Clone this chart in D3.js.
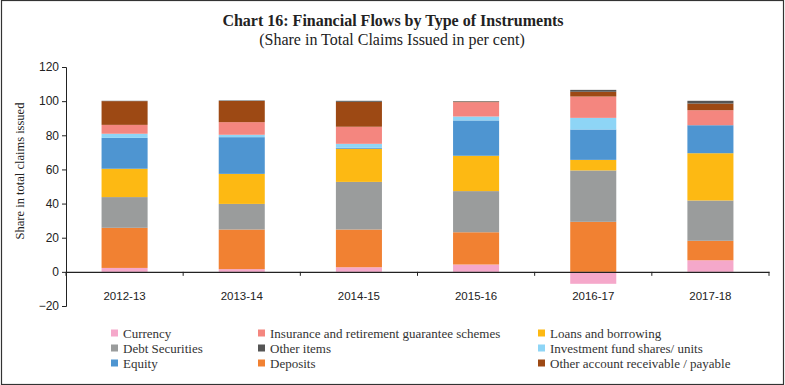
<!DOCTYPE html>
<html><head><meta charset="utf-8">
<script src="https://cdn.jsdelivr.net/npm/d3@7/dist/d3.min.js"></script>
<style>body{margin:0;background:#fff}svg{display:block}</style>
</head><body>
<script>
const categories = ["2012-13","2013-14","2014-15","2015-16","2016-17","2017-18"];
const seriesNames = ["Currency","Deposits","Debt Securities","Loans and borrowing","Equity","Investment fund shares/ units","Insurance and retirement guarantee schemes","Other account receivable / payable","Other items"];
const currency    = [2.3, 1.6, 2.7, 4.3, -7.0, 6.8];
const deposits    = [23.5, 23.2, 22.1, 18.9, 29.3, 11.4];
const debt        = [18.0, 15.0, 27.9, 24.1, 30.1, 23.6];
const loans       = [16.6, 17.6, 19.4, 20.7, 6.2, 27.7];
const equity      = [18.1, 21.5, 0.6, 20.7, 17.8, 16.4];
const investment  = [2.4, 1.4, 2.3, 2.3, 6.8, 0];
const insurance   = [5.2, 7.4, 10.0, 8.4, 12.5, 8.8];
const otherAcct   = [13.9, 12.4, 14.6, 0.3, 2.8, 3.9];
const otherItems  = [0.2, 0.3, 0.6, 0.3, 1.1, 1.6];
const yTicks = [-20, 0, 20, 40, 60, 80, 100, 120];
const colors = ["#F5A8CA","#F18132","#9A9C9C","#FDB913","#4E95D1","#8ED5F6","#F4867F","#9D4914","#555555"];

const series = [currency, deposits, debt, loans, equity, investment, insurance, otherAcct, otherItems];

const W = 785, H = 385;
const svg = d3.select("body").append("svg").attr("width", W).attr("height", H);
svg.append("rect").attr("x",1.5).attr("y",0.5).attr("width",W-3).attr("height",H-1)
  .attr("fill","#fff").attr("stroke","#333").attr("stroke-width",1.2);

const serif = "'Liberation Serif', 'DejaVu Serif', serif";
const sans = "'Liberation Sans', Arial, sans-serif";

svg.append("text").attr("x",393).attr("y",26).attr("text-anchor","middle")
  .attr("font-family",serif).attr("font-weight","bold").attr("font-size",16).attr("fill","#222")
  .text("Chart 16: Financial Flows by Type of Instruments");
svg.append("text").attr("x",392).attr("y",45).attr("text-anchor","middle")
  .attr("font-family",serif).attr("font-size",16).attr("fill","#222")
  .text("(Share in Total Claims Issued in per cent)");

const x0 = 66, x1 = 769;
const y = d3.scaleLinear().domain([-20,120]).range([306,67]);
const x = d3.scaleBand().domain(categories).range([x0,x1]).paddingInner(0.607).paddingOuter(0.3035);

// stacking with positive/negative separation
const stacks = series.map(()=>[]);
categories.forEach((c,i)=>{
  let pos=0, neg=0;
  series.forEach((s,k)=>{
    const v=s[i];
    if(v>=0){stacks[k].push({c, y0:pos, y1:pos+v}); pos+=v;}
    else {stacks[k].push({c, y0:neg+v, y1:neg}); neg+=v;}
  });
});

const g = svg.append("g");
stacks.forEach((st,k)=>{
  g.selectAll(null).data(st).enter().append("rect")
    .attr("x",d=>x(d.c)).attr("width",x.bandwidth())
    .attr("y",d=>y(d.y1)).attr("height",d=>Math.max(0,y(d.y0)-y(d.y1)))
    .attr("fill",colors[k]);
});

// y axis
const ya = svg.append("g").attr("transform",`translate(${x0},0)`)
  .call(d3.axisLeft(y).tickValues(yTicks).tickSize(4).tickPadding(3));
ya.select(".domain").attr("stroke","#222");
ya.selectAll(".tick line").attr("stroke","#222");
ya.selectAll("text").attr("font-family",sans).attr("font-size",12).attr("fill","#222");

// x axis at zero
const xa = svg.append("g").attr("transform",`translate(0,${y(0)})`)
  .call(d3.axisBottom(x).tickSize(0).tickPadding(20));
xa.select(".domain").attr("stroke","#222").attr("stroke-width",1.2);
xa.selectAll("text").attr("font-family",sans).attr("font-size",11.5).attr("fill","#222");
const step = x.step();
const bounds = d3.range(categories.length+1).map(i=>x0+i*step);
xa.selectAll(".bt").data(bounds).enter().append("line")
  .attr("x1",d=>d).attr("x2",d=>d).attr("y1",0).attr("y2",4).attr("stroke","#222");

svg.append("text").attr("transform","translate(24,171) rotate(-90)")
  .attr("text-anchor","middle").attr("font-family",serif).attr("font-size",12.5).attr("fill","#222")
  .text("Share in total claims issued");

// legend
const legendOrder = [0,6,3,2,8,5,4,1,7];
const colX = [111,258,538], rowY = [333,348,363];
legendOrder.forEach((k,i)=>{
  const col = i%3, row = Math.floor(i/3);
  const lg = svg.append("g").attr("transform",`translate(${colX[col]},${rowY[row]})`);
  lg.append("rect").attr("x",0).attr("y",-3.5).attr("width",7).attr("height",7).attr("fill",colors[k]);
  lg.append("text").attr("x",12).attr("y",4.5).attr("font-family",serif).attr("font-size",13).attr("fill","#333")
    .text(seriesNames[k]);
});
</script>
</body></html>
